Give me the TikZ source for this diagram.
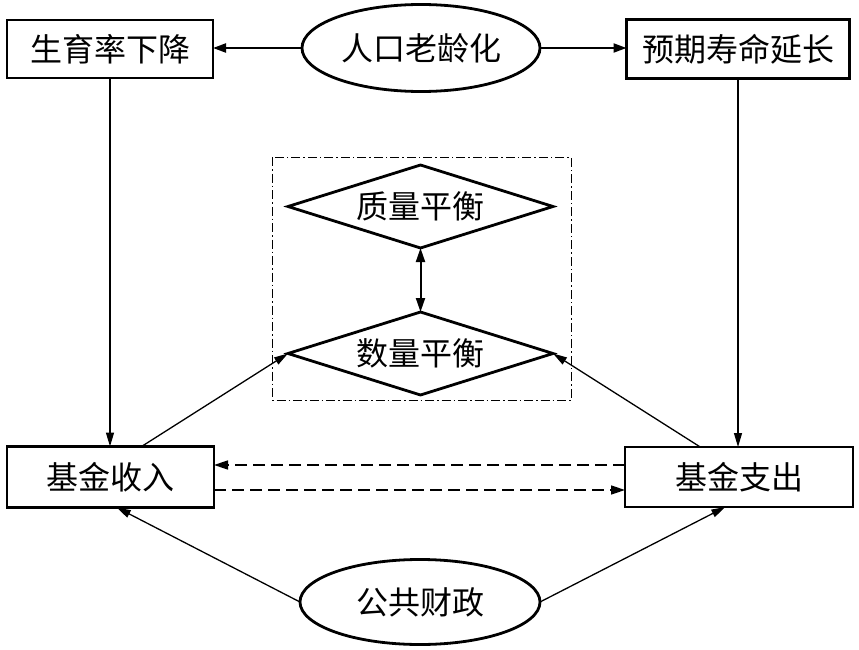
\documentclass[tikz,border=0pt]{standalone}
\usepackage{fontspec}
\newfontfamily\cjk{Noto Sans CJK SC}
\usetikzlibrary{arrows.meta,shapes.geometric,calc}
\begin{document}
\begin{tikzpicture}[x=1pt,y=-1pt,
  lbl/.style={font=\cjk\fontsize{32}{32}\selectfont, inner sep=0pt, outer sep=0pt},
  boxnode/.style={lbl, draw, line width=2.8pt, rectangle},
  ellnode/.style={lbl, draw, line width=2.8pt, ellipse},
  dianode/.style={lbl, draw, line width=2.8pt, diamond, aspect=3.2, minimum width=265pt, minimum height=83pt},
  thickarr/.style={line width=2.2pt, -{Triangle[length=13pt,width=9pt]}},
  thinarr/.style={line width=1.3pt, -{Triangle[length=14pt,width=8pt]}},
  dasharr/.style={line width=1.6pt, dash pattern=on 12pt off 6pt, -{Triangle[length=14pt,width=9pt]}},
  dblarr/.style={line width=2pt, {Triangle[length=14pt,width=9pt]}-{Triangle[length=14pt,width=9pt]}},
  frame/.style={line width=1pt, dash pattern=on 9pt off 3pt on 1.5pt off 3pt}
]
\useasboundingbox (0,0) rectangle (859,650);
\fill[white] (0,0) rectangle (859,650);

\node[boxnode, minimum width=206pt, minimum height=58pt] (birth) at (110,49) {生育率下降};
\node[ellnode, minimum width=238pt, minimum height=87pt] (aging) at (421,48) {人口老龄化};
\node[boxnode, minimum width=223pt, minimum height=59pt] (life) at (738,49) {预期寿命延长};

\node[dianode] (quality) at (420.5,206.5) {质量平衡};
\node[dianode] (quantity) at (420.5,353.5) {数量平衡};
\draw[frame] (272,157) rectangle (571,400);

\node[boxnode, minimum width=207pt, minimum height=61pt] (income) at (110.5,477) {基金收入};
\node[boxnode, minimum width=228pt, minimum height=60pt] (expense) at (739,477) {基金支出};
\node[ellnode, minimum width=240pt, minimum height=85pt] (fiscal) at (420,602) {公共财政};

\draw[thickarr] (aging.west) -- (aging.west -| birth.east);
\draw[thickarr] (aging.east) -- (aging.east -| life.west);

\draw[thinarr] (birth.south) -- (birth.south |- income.north);
\draw[thinarr] (life.south) -- (life.south |- expense.north);

\draw[dblarr] (quality.south) -- (quantity.north);

\coordinate (inTop) at ($(income.north west)!0.65!(income.north east)$);
\coordinate (exTop) at ($(expense.north west)!0.33!(expense.north east)$);
\draw[thinarr] (inTop) -- (quantity.west);
\draw[thinarr] (exTop) -- (quantity.east);

\draw[dasharr] ([yshift=12pt]expense.west) -- ([yshift=12pt]expense.west -| income.east);
\draw[dasharr] ([yshift=-13pt]income.east) -- ([yshift=-13pt]income.east -| expense.west);

\coordinate (inBot) at ($(income.south west)!0.53!(income.south east)$);
\coordinate (exBot) at ($(expense.south west)!0.44!(expense.south east)$);
\draw[thinarr] (fiscal.west) -- (inBot);
\draw[thinarr] (fiscal.east) -- (exBot);
\end{tikzpicture}
\end{document}
